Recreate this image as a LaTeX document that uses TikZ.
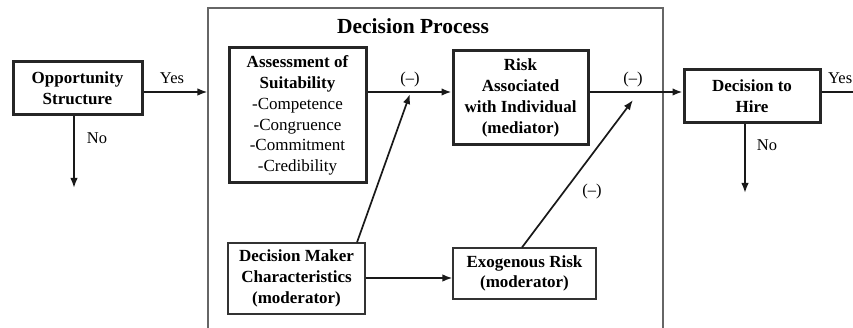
\documentclass[tikz,border=0pt]{standalone}
\usepackage{fontspec}
\setmainfont{Liberation Serif}
\usetikzlibrary{arrows.meta}
\begin{document}
\begin{tikzpicture}[x=1pt,y=-1pt,
  base/.style={font=\fontsize{17}{20.8}\selectfont, align=center, inner sep=0pt},
  thickbox/.style={base, draw=black!85, line width=3pt},
  thinbox/.style={base, draw=black!80, line width=1.2pt},
  conn/.style={line width=1.7pt, draw=black!90, -{Latex[length=10pt,width=7.5pt]}},
  plain/.style={line width=1.7pt, draw=black!90},
  lbl/.style={font=\fontsize{16.5}{20}\selectfont, inner sep=0pt}]
\useasboundingbox[fill=white] (0,0) rectangle (853,328);
% decision process frame (its bottom edge lies beyond the picture)
\node[draw=black!60, line width=1.1pt, minimum width=455pt, minimum height=327pt, inner sep=0pt] (proc) at (435.5,171.5) {};
\node[base, font=\fontsize{21.5}{24}\selectfont\bfseries] (title) at (413,26) {Decision Process};
% boxes
\node[thickbox, minimum width=129pt, minimum height=53pt] (opp) at (77.5,88.5) {\bfseries Opportunity\\\bfseries Structure};
\node[thickbox, minimum width=137pt, minimum height=135pt] (assess) at (297.5,115.5)
  {\bfseries Assessment of\\\bfseries Suitability\\-Competence\\-Congruence\\-Commitment\\-Credibility};
\node[thickbox, minimum width=135pt, minimum height=94pt] (risk) at (520.5,98)
  {\bfseries Risk\\\bfseries Associated\\\bfseries with Individual\\\bfseries (mediator)};
\node[thickbox, minimum width=136pt, minimum height=53pt] (hire) at (752,96.5) {\bfseries Decision to\\\bfseries Hire};
\node[thinbox, minimum width=137pt, minimum height=71pt] (dmc) at (296.5,278.5)
  {\bfseries Decision Maker\\\bfseries Characteristics\\\bfseries (moderator)};
\node[thinbox, minimum width=143pt, minimum height=51pt] (exo) at (524.5,273.5)
  {\bfseries Exogenous Risk\\\bfseries (moderator)};
% coordinates
\coordinate (m1) at (410,92);
\coordinate (m1tip) at (410,94);
\coordinate (m2) at (633,92);
\coordinate (m2tip) at (633,100);
\coordinate (no1) at (74,188);
\coordinate (no2) at (745,193);
\coordinate (yesend) at (853,92);
% connectors
\draw[conn] (opp.east |- m1) -- (proc.west |- m1);
\draw[conn] (opp.south -| no1) -- (no1);
\draw[conn] (assess.east |- m1) -- (risk.west |- m1);
\draw[conn] (risk.east |- m2) -- (hire.west |- m2);
\draw[conn] (dmc.north -| 357,0) -- (m1tip);
\draw[conn] (dmc.east |- 0,278) -- (exo.west |- 0,278);
\draw[conn] (exo.north -| 522,0) -- (m2tip);
\draw[conn] (hire.south -| no2) -- (no2);
\draw[plain] (hire.east |- yesend) -- (yesend);
% labels
\node[lbl] (yes1) at (172,78) {Yes};
\node[lbl] (nol1) at (97,138) {No};
\node[lbl] (neg1) at (410,80) {(–)};
\node[lbl] (neg2) at (633,80) {(–)};
\node[lbl] (neg3) at (592,192) {(–)};
\node[lbl, anchor=west] (yes2) at (828,78) {Yes};
\node[lbl] (nol2) at (767,145) {No};
\end{tikzpicture}
\end{document}
